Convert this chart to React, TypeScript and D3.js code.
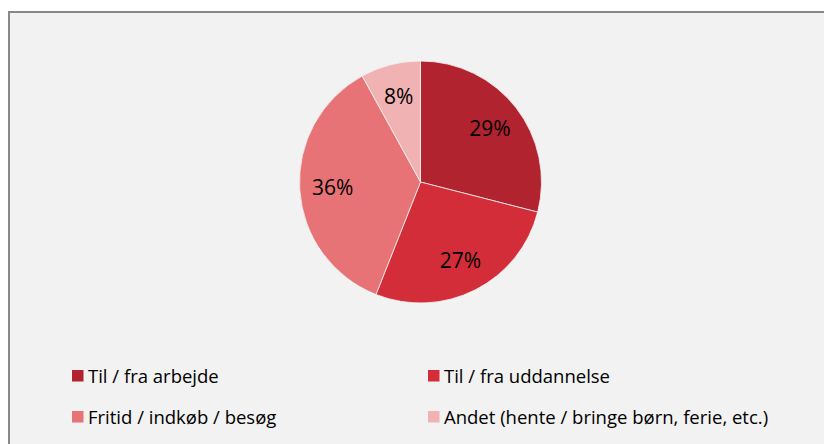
import React from 'react';
import * as d3 from 'd3';

// trip purpose shares (percent)
const categories = ['Til / fra arbejde', 'Til / fra uddannelse', 'Fritid / indkøb / besøg', 'Andet (hente / bringe børn, ferie, etc.)'];
const shares = [29, 27, 36, 8];
const colors = ['#b1232f', '#d42d3a', '#e87376', '#f1b2b3'];

const W = 824;
const H = 444;
const cx = 420.5;
const cy = 182;
const R = 121;

const App = () => {
  const pie = d3.pie<number>().sort(null).value(d => d);
  const arcs = pie(shares);
  const arcGen = d3.arc<d3.PieArcDatum<number>>().innerRadius(0).outerRadius(R);
  const labelArc = d3.arc<d3.PieArcDatum<number>>().innerRadius(88).outerRadius(88);

  // legend: 2 columns x 2 rows
  const colX = d3.scaleOrdinal<number, number>().domain([0, 1]).range([72, 428]);
  const rowY = d3.scaleOrdinal<number, number>().domain([0, 1]).range([370, 411]);

  const font = '"Open Sans", "Noto Sans", sans-serif';

  return (
    <svg width={W} height={H} style={{ position: 'absolute', left: 0, top: 0 }}>
      <rect x={0} y={0} width={W} height={H} fill="#ffffff" />
      <rect x={9} y={12} width={W + 10} height={H + 10} fill="#f2f2f2" stroke="#898989" strokeWidth={2} />
      <g transform={`translate(${cx},${cy})`}>
        {arcs.map((a, i) => (
          <path key={i} d={arcGen(a) || ''} fill={colors[i]} stroke="#f2f2f2" strokeWidth={0.8} />
        ))}
        {arcs.map((a, i) => {
          const [x, y] = labelArc.centroid(a);
          return (
            <text key={i} x={x} y={y} dy="0.36em" textAnchor="middle" fontFamily={font} fontSize={21} fill="#000">
              {shares[i]}%
            </text>
          );
        })}
      </g>
      {categories.map((c, i) => {
        const x = colX(i % 2);
        const y = rowY(Math.floor(i / 2));
        return (
          <g key={c}>
            <rect x={x} y={y} width={11.5} height={11.5} fill={colors[i]} />
            <text x={x + 16} y={y + 12.5} fontFamily={font} fontSize={18.5} fill="#000">
              {c}
            </text>
          </g>
        );
      })}
    </svg>
  );
};

export default App;
